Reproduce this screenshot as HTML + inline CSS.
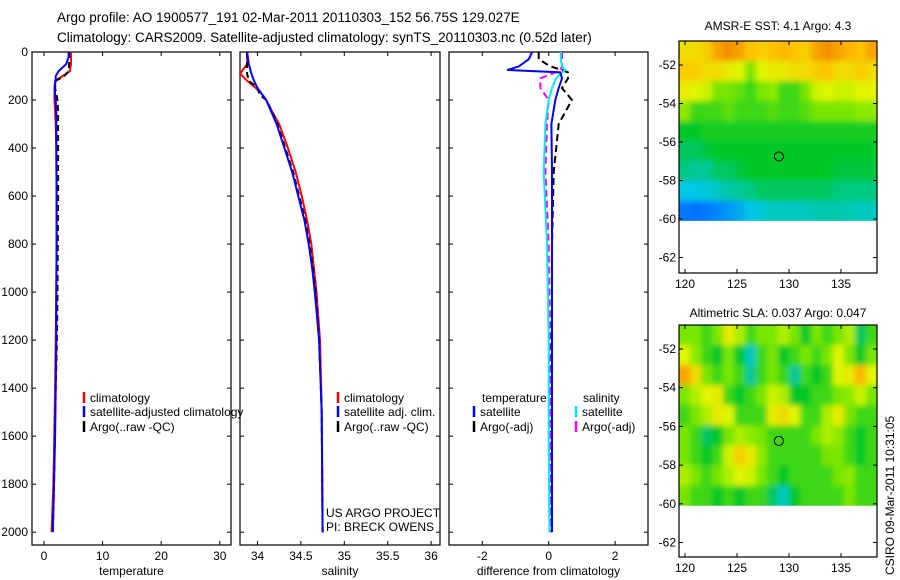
<!DOCTYPE html>
<html><head><meta charset="utf-8"><style>
body{margin:0;background:#fff;width:900px;height:580px;overflow:hidden}
svg{display:block;font-family:"Liberation Sans",sans-serif}
</style></head><body>
<svg id="fig" width="900" height="580" viewBox="0 0 900 580" xmlns="http://www.w3.org/2000/svg">
<text x="57" y="22" font-size="13.5">Argo profile: AO 1900577_191 02-Mar-2011 20110303_152 56.75S 129.027E</text>
<text x="57" y="42" font-size="13.5">Climatology: CARS2009. Satellite-adjusted climatology: synTS_20110303.nc (0.52d later)</text>
<text x="778" y="30" font-size="12" text-anchor="middle">AMSR-E SST: 4.1 Argo: 4.3</text>
<text x="778" y="317" font-size="12" text-anchor="middle">Altimetric SLA: 0.037 Argo: 0.047</text>
<text transform="translate(894,575) rotate(-90)" font-size="12">CSIRO 09-Mar-2011 10:31:05</text>
<g id="plots"></g>
</svg>
<script>
// ---- data ----
const depthTicks=[0,200,400,600,800,1000,1200,1400,1600,1800,2000];
const tempTicks=[0,10,20,30];
const salTicks=[34,34.5,35,35.5,36];
const salTickLabels=['34','34.5','35','35.5','36'];
const diffTicks=[-2,0,2];
const tDepth=[0,20,50,80,100,120,150,200,250,300,400,600,800,1000,1200,1400,1600,1800,2000];
const tClim=[4.6,4.6,4.6,4.4,3.2,1.9,1.8,1.8,1.9,2.0,2.1,2.15,2.15,2.1,2.0,1.9,1.75,1.6,1.3];
const tSat=[4.2,4.2,3.8,2.5,2.0,2.0,1.8,2.0,2.1,2.1,2.1,2.15,2.15,2.1,2.1,2.0,1.9,1.7,1.5];
const tArgo=[4.3,4.3,4.3,4.2,3.5,2.0,1.9,2.3,2.4,2.4,2.4,2.4,2.35,2.3,2.2,2.0,1.85,1.7,1.5];
const sDepth=[0,50,90,120,150,180,200,250,300,400,500,600,700,800,900,1000,1200,1500,2000];
const sClim=[33.88,33.88,33.8,33.88,33.98,34.06,34.1,34.17,34.25,34.35,34.44,34.51,34.57,34.62,34.65,34.68,34.72,34.74,34.75];
const sSat=[33.88,33.9,33.93,33.96,34.0,34.06,34.1,34.16,34.22,34.31,34.4,34.47,34.54,34.59,34.63,34.66,34.71,34.74,34.75];
const sArgo=[33.88,33.88,33.88,33.9,34.0,34.03,34.1,34.17,34.23,34.32,34.41,34.48,34.55,34.6,34.64,34.67,34.71,34.74,34.75];
const dDepth=[0,30,60,75,85,110,150,200,300,500,800,1200,1600,2000];
const dTempSat=[-0.5,-0.6,-0.9,-1.25,0.35,0.4,0.3,0.2,0.08,0.1,0.1,0.1,0.1,0.1];
const dTempArgo=[-0.3,-0.3,0.05,0.4,0.58,0.58,0.4,0.7,0.3,0.15,0.1,0.08,0.07,0.07];
const dSalSat=[0.36,0.36,0.4,0.5,0.4,0.22,0.1,0.0,-0.1,-0.15,-0.05,0.0,0.0,0.02];
const dSalArgo=[0.4,0.4,0.4,0.35,0.2,-0.25,-0.25,0.0,-0.05,-0.1,0.0,0.02,0.05,0.05];
const mapLatTicks=[-52,-54,-56,-58,-60,-62];
const mapLonTicks=[120,125,130,135];
const argoLon=129.027, argoLat=-56.75;
const sstGrid=[
[0.75,0.75,0.78,0.85,0.88,0.85,0.8,0.78,0.8,0.82,0.8,0.78,0.85,0.88,0.85,0.82,0.8,0.85],
[0.78,0.78,0.75,0.75,0.72,0.7,0.6,0.7,0.72,0.72,0.75,0.75,0.78,0.8,0.75,0.75,0.78,0.75],
[0.72,0.7,0.68,0.6,0.6,0.58,0.55,0.6,0.62,0.55,0.55,0.6,0.68,0.7,0.68,0.68,0.7,0.7],
[0.62,0.55,0.55,0.55,0.58,0.55,0.55,0.55,0.57,0.55,0.55,0.57,0.6,0.6,0.6,0.6,0.62,0.62],
[0.5,0.5,0.52,0.52,0.52,0.52,0.52,0.52,0.52,0.52,0.52,0.52,0.52,0.52,0.52,0.52,0.52,0.52],
[0.45,0.45,0.48,0.5,0.5,0.5,0.5,0.5,0.5,0.5,0.5,0.5,0.5,0.5,0.5,0.5,0.5,0.5],
[0.42,0.4,0.4,0.45,0.45,0.48,0.5,0.5,0.5,0.5,0.5,0.5,0.5,0.5,0.48,0.48,0.48,0.48],
[0.3,0.3,0.32,0.35,0.38,0.4,0.42,0.45,0.45,0.45,0.45,0.45,0.45,0.45,0.42,0.42,0.42,0.42],
[0.2,0.18,0.2,0.22,0.24,0.26,0.3,0.32,0.35,0.35,0.35,0.35,0.37,0.37,0.37,0.36,0.35,0.35]];
const slaGrid=[
[0.6,0.6,0.55,0.6,0.72,0.65,0.55,0.6,0.6,0.65,0.6,0.5,0.6,0.55,0.6,0.65,0.45,0.55],
[0.7,0.62,0.55,0.5,0.6,0.5,0.35,0.55,0.6,0.5,0.55,0.6,0.55,0.6,0.7,0.6,0.5,0.6],
[0.85,0.75,0.6,0.55,0.6,0.55,0.4,0.55,0.6,0.55,0.4,0.55,0.5,0.55,0.7,0.72,0.82,0.7],
[0.6,0.65,0.7,0.72,0.55,0.5,0.55,0.6,0.68,0.65,0.5,0.5,0.55,0.55,0.6,0.62,0.68,0.6],
[0.55,0.6,0.65,0.72,0.7,0.55,0.55,0.55,0.72,0.75,0.7,0.55,0.55,0.65,0.72,0.6,0.55,0.55],
[0.6,0.55,0.45,0.5,0.6,0.65,0.62,0.6,0.55,0.55,0.55,0.55,0.6,0.65,0.62,0.55,0.5,0.55],
[0.6,0.55,0.5,0.55,0.68,0.78,0.72,0.62,0.55,0.55,0.55,0.55,0.55,0.6,0.6,0.55,0.5,0.55],
[0.65,0.6,0.55,0.6,0.65,0.7,0.68,0.6,0.55,0.5,0.55,0.55,0.55,0.55,0.6,0.62,0.55,0.55],
[0.6,0.55,0.55,0.5,0.55,0.5,0.55,0.55,0.45,0.35,0.5,0.55,0.55,0.55,0.55,0.6,0.55,0.55]];
// ---- drawing ----
const NS='http://www.w3.org/2000/svg';
const root=document.getElementById('plots');
function mk(tag,attrs,parent){const e=document.createElementNS(NS,tag);for(const k in attrs)e.setAttribute(k,attrs[k]);(parent||root).appendChild(e);return e;}
const TOP=52,BOT=545;
const yD=d=>TOP+d*0.2401;
const panels=[
 {name:'temperature',L:32,R:231,x:v=>44+v*5.86,ticks:tempTicks,labels:tempTicks.map(String),xlabel:'temperature'},
 {name:'salinity',L:240,R:440,x:v=>257.5+(v-34)*86.8,ticks:salTicks,labels:salTickLabels,xlabel:'salinity'},
 {name:'difference',L:449,R:648,x:v=>548.7+v*33.2,ticks:diffTicks,labels:diffTicks.map(String),xlabel:'difference from climatology'}];
panels.forEach((p,i)=>{
 const g=mk('g',{});
 
 
 mk('rect',{x:p.L,y:TOP,width:p.R-p.L,height:BOT-TOP,fill:'none',stroke:'#000','stroke-width':1.2},g);
 depthTicks.forEach(d=>{const y=yD(d);
  mk('line',{x1:p.L,x2:p.L+4,y1:y,y2:y,stroke:'#000'},g);
  mk('line',{x1:p.R,x2:p.R-4,y1:y,y2:y,stroke:'#000'},g);
  if(i===0){const t=mk('text',{x:p.L-4,y:y+4,'font-size':12,'text-anchor':'end'},g);t.textContent=d;
   
   }
 });
 p.ticks.forEach((v,k)=>{const x=p.x(v);
  mk('line',{x1:x,x2:x,y1:BOT,y2:BOT-4,stroke:'#000'},g);
  mk('line',{x1:x,x2:x,y1:TOP,y2:TOP+4,stroke:'#000'},g);
  const t=mk('text',{x:x,y:BOT+15,'font-size':12,'text-anchor':'middle'},g);t.textContent=p.labels[k];
  
  
 });
 const xl=mk('text',{x:(p.L+p.R)/2,y:BOT+30,'font-size':12,'text-anchor':'middle'},g);xl.textContent=p.xlabel;
 
 
 p.g=g;
});
function line(p,depths,vals,color,dash,name,w){
 const pts=depths.map((d,k)=>p.x(vals[k]).toFixed(1)+','+yD(d).toFixed(1)).join(' ');
 const e=mk('polyline',{points:pts,fill:'none',stroke:color,'stroke-width':w||2,'stroke-dasharray':dash||'none'},p.g);
 
 
}
line(panels[0],tDepth,tClim,'#f00',null,'temp-climatology-line');
line(panels[0],tDepth,tArgo,'#000','6,4','temp-argo-line');
line(panels[0],tDepth,tSat,'#00f',null,'temp-satellite-line');
line(panels[1],sDepth,sClim,'#f00',null,'sal-climatology-line');
line(panels[1],sDepth,sArgo,'#000','6,4','sal-argo-line');
line(panels[1],sDepth,sSat,'#00f',null,'sal-satellite-line');
line(panels[2],dDepth,dTempArgo,'#000','7,4','diff-temp-argo-line');
line(panels[2],dDepth,dSalArgo,'#f0f','7,4','diff-sal-argo-line');
line(panels[2],dDepth,dSalSat,'#0ee',null,'diff-sal-satellite-line');
line(panels[2],dDepth,dTempSat,'#00f',null,'diff-temp-satellite-line');
function legend(g,x,y,color,label,name){
 if(color){mk('line',{x1:x,x2:x,y1:y-10,y2:y+1,stroke:color,'stroke-width':2.5},g);}
 const t=mk('text',{x:x+6,y:y,'font-size':12},g);t.textContent=label;
 
 
}
legend(panels[0].g,84,402,'#f00','climatology','legend-climatology');
legend(panels[0].g,84,416,'#00f','satellite-adjusted climatology','legend-satellite-adjusted');
legend(panels[0].g,84,431,'#000','Argo(..raw -QC)','legend-argo');
legend(panels[1].g,338,402,'#f00','climatology','legend-climatology');
legend(panels[1].g,338,416,'#00f','satellite adj. clim.','legend-satellite-adjusted');
legend(panels[1].g,338,431,'#000','Argo(..raw -QC)','legend-argo');
legend(panels[2].g,476,402,null,'temperature','legend-temperature-header');
legend(panels[2].g,474,416,'#00f','satellite','legend-temp-satellite');
legend(panels[2].g,474,431,'#000','Argo(-adj)','legend-temp-argo');
legend(panels[2].g,577,402,null,'salinity','legend-salinity-header');
legend(panels[2].g,576,416,'#0ee','satellite','legend-sal-satellite');
legend(panels[2].g,576,431,'#f0f','Argo(-adj)','legend-sal-argo');
const c1=mk('text',{x:326,y:517,'font-size':12},panels[1].g);c1.textContent='US ARGO PROJECT';


const c2=mk('text',{x:326,y:531,'font-size':12},panels[1].g);c2.textContent='PI: BRECK OWENS';


// colormap
const stops=[[0,[0,40,255]],[0.2,[0,120,255]],[0.3,[0,200,230]],[0.4,[0,200,150]],[0.5,[0,200,40]],[0.6,[120,230,0]],[0.7,[225,245,0]],[0.8,[255,195,0]],[0.9,[240,130,0]],[1,[220,80,0]]];
function cmap(v){for(let i=1;i<stops.length;i++){if(v<=stops[i][0]){const a=stops[i-1],b=stops[i],f=(v-a[0])/(b[0]-a[0]);return 'rgb('+a[1].map((c,k)=>Math.round(c+(b[1][k]-c)*f)).join(',')+')';}}return 'rgb(220,80,0)';}
const defs=mk('defs',{});
const flt=mk('filter',{id:'soft',filterUnits:'userSpaceOnUse',x:660,y:20,width:240,height:560},defs);
mk('feGaussianBlur',{stdDeviation:3,edgeMode:'duplicate'},flt);
let mapIdx=0;
function map(name,top,bot,grid,lat52,latPer2){
 const L=679,R=877;
 const xL=lon=>685+(lon-120)*10.4;
 const yL=lat=>lat52+(-52-lat)*latPer2/2;
 const g=mk('g',{});
 
 
 const rows=grid.length,cols=grid[0].length;
 const latTop=-52+(lat52-top)/(latPer2/2), latBot=-60.1;
 const lonL=120+(L-685)/10.4, lonR=120+(R-685)/10.4;
 const dlat=(latTop-latBot)/rows, dlon=(lonR-lonL)/cols;
 const cid='clip'+(mapIdx++);
 const cp=mk('clipPath',{id:cid},defs);
 mk('rect',{x:L,y:top,width:R-L,height:yL(latBot)-top},cp);
 const outer=mk('g',{'clip-path':'url(#'+cid+')'},g);
 const cg=mk('g',{filter:'url(#soft)'},outer);
 grid.forEach((row,r)=>row.forEach((v,c)=>{
  const x0=xL(lonL+c*dlon),x1=xL(lonL+(c+1)*dlon),y0=yL(latTop-r*dlat),y1=yL(latTop-(r+1)*dlat);
  const cell=mk('rect',{x:(c===0?x0-8:x0).toFixed(1),y:(r===0?y0-8:y0).toFixed(1),width:(x1-x0+0.6+(c===0||c===cols-1?8:0)).toFixed(1),height:(y1-y0+0.6+(r===0||r===rows-1?8:0)).toFixed(1),fill:cmap(v)},cg);
  
  
 }));
 mk('rect',{x:L,y:top,width:R-L,height:bot-top,fill:'none',stroke:'#000','stroke-width':1.2},g);
 mapLatTicks.forEach(lat=>{const y=yL(lat);
  mk('line',{x1:L,x2:L+4,y1:y,y2:y,stroke:'#000'},g);mk('line',{x1:R,x2:R-4,y1:y,y2:y,stroke:'#000'},g);
  const t=mk('text',{x:L-3,y:y+4,'font-size':12,'text-anchor':'end'},g);t.textContent=lat;
  
  });
 mapLonTicks.forEach(lon=>{const x=xL(lon);
  mk('line',{x1:x,x2:x,y1:bot,y2:bot-4,stroke:'#000'},g);mk('line',{x1:x,x2:x,y1:top,y2:top+4,stroke:'#000'},g);
  const t=mk('text',{x:x,y:bot+15,'font-size':12,'text-anchor':'middle'},g);t.textContent=lon;
  
  });
 const m=mk('circle',{cx:xL(argoLon),cy:yL(argoLat),r:4.5,fill:'none',stroke:'#000','stroke-width':1},g);
 
 
}
map('sst-map',41,273,sstGrid,65,38.5);
map('sla-map',325,557,slaGrid,349,38.7);
</script>
</body></html>
